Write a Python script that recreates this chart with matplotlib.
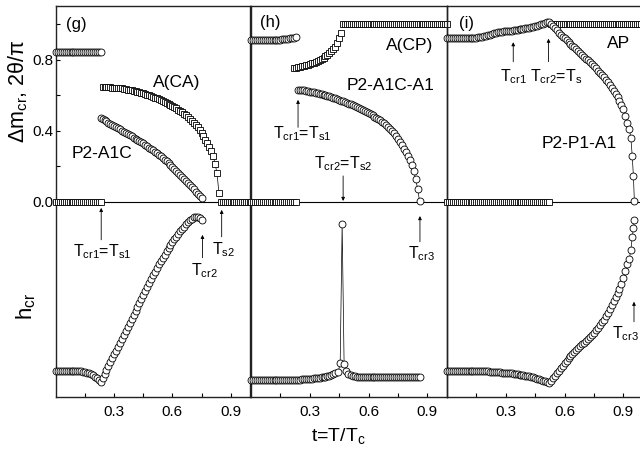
import matplotlib
matplotlib.use('Agg')
import matplotlib.pyplot as plt

plt.rcParams['font.family'] = ['Liberation Sans', 'DejaVu Sans']
plt.rcParams['mathtext.fontset'] = 'custom'
plt.rcParams['mathtext.rm'] = 'Liberation Sans'
plt.rcParams['mathtext.it'] = 'Liberation Sans:italic'

# ---------------- data ----------------
# panel (g)
g_t_flat = [0.00, 0.01, 0.02, 0.03, 0.04, 0.05, 0.06, 0.07, 0.08, 0.09, 0.10, 0.11,
            0.12, 0.13, 0.14, 0.15, 0.16, 0.17, 0.18, 0.19, 0.20, 0.21, 0.22, 0.23]
g_top = [0.845, 0.845, 0.845, 0.845, 0.845, 0.845, 0.845, 0.845, 0.845, 0.845, 0.845, 0.845,
         0.845, 0.845, 0.845, 0.845, 0.845, 0.845, 0.845, 0.845, 0.845, 0.845, 0.845, 0.845]
g_zero_a = [0.0, 0.0, 0.0, 0.0, 0.0, 0.0, 0.0, 0.0, 0.0, 0.0, 0.0, 0.0,
            0.0, 0.0, 0.0, 0.0, 0.0, 0.0, 0.0, 0.0, 0.0, 0.0, 0.0, 0.0]
g_t_tail = [0.85, 0.86, 0.87, 0.88, 0.89, 0.90, 0.91, 0.92, 0.93, 0.94, 0.95, 0.96,
            0.97, 0.98, 0.99, 1.00]
g_zero_b = [0.0, 0.0, 0.0, 0.0, 0.0, 0.0, 0.0, 0.0, 0.0, 0.0, 0.0, 0.0, 0.0, 0.0, 0.0, 0.0]
g_t_ca = [0.24, 0.25, 0.26, 0.27, 0.28, 0.29, 0.30, 0.31, 0.32, 0.33,
          0.34, 0.35, 0.36, 0.37, 0.38, 0.39, 0.40, 0.41, 0.42, 0.43,
          0.44, 0.45, 0.46, 0.47, 0.48, 0.49, 0.50, 0.51, 0.52, 0.53,
          0.54, 0.55, 0.56, 0.57, 0.58, 0.59, 0.60, 0.61, 0.62, 0.63,
          0.64, 0.65, 0.66, 0.67, 0.68, 0.69, 0.70, 0.71, 0.72, 0.73,
          0.74, 0.75, 0.76, 0.77, 0.78, 0.79, 0.80, 0.81, 0.82, 0.83, 0.84]
g_ca = [0.649, 0.648, 0.647, 0.646, 0.645, 0.644, 0.643, 0.642, 0.641, 0.640,
        0.639, 0.637, 0.635, 0.633, 0.631, 0.629, 0.627, 0.625, 0.622, 0.619,
        0.616, 0.613, 0.609, 0.605, 0.601, 0.597, 0.593, 0.588, 0.584, 0.579,
        0.574, 0.568, 0.563, 0.557, 0.551, 0.545, 0.539, 0.533, 0.527, 0.520,
        0.513, 0.505, 0.496, 0.487, 0.477, 0.466, 0.455, 0.444, 0.433, 0.421,
        0.405, 0.388, 0.369, 0.350, 0.332, 0.312, 0.287, 0.256, 0.216, 0.160, 0.050]
g_t_p2 = [0.23, 0.24, 0.25, 0.26, 0.27, 0.28, 0.29, 0.30, 0.31, 0.32,
          0.33, 0.34, 0.35, 0.36, 0.37, 0.38, 0.39, 0.40, 0.41, 0.42,
          0.43, 0.44, 0.45, 0.46, 0.47, 0.48, 0.49, 0.50, 0.51, 0.52,
          0.53, 0.54, 0.55, 0.56, 0.57, 0.58, 0.59, 0.60, 0.61, 0.62,
          0.63, 0.64, 0.65, 0.66, 0.67, 0.68, 0.69, 0.70, 0.71, 0.72,
          0.73, 0.74, 0.75]
g_p2 = [0.472, 0.466, 0.460, 0.453, 0.447, 0.440, 0.434, 0.427, 0.421, 0.414,
        0.408, 0.401, 0.395, 0.388, 0.382, 0.375, 0.369, 0.362, 0.356, 0.349,
        0.343, 0.336, 0.329, 0.322, 0.314, 0.306, 0.298, 0.290, 0.282, 0.274,
        0.266, 0.257, 0.248, 0.238, 0.228, 0.218, 0.208, 0.197, 0.186, 0.175,
        0.164, 0.152, 0.141, 0.130, 0.119, 0.108, 0.097, 0.085, 0.072, 0.058,
        0.046, 0.032, 0.020]
g_t_h = g_t_flat + [0.24, 0.25, 0.26, 0.27, 0.28, 0.29,
        0.30, 0.31, 0.32, 0.33, 0.34, 0.35, 0.36, 0.37, 0.38, 0.39,
        0.40, 0.41, 0.42, 0.43, 0.44, 0.45, 0.46, 0.47, 0.48, 0.49,
        0.50, 0.51, 0.52, 0.53, 0.54, 0.55, 0.56, 0.57, 0.58, 0.59,
        0.60, 0.61, 0.62, 0.63, 0.64, 0.65, 0.66, 0.67, 0.68, 0.69,
        0.70, 0.71, 0.72, 0.73, 0.74, 0.75]
g_h = [-0.952, -0.952, -0.952, -0.952, -0.952, -0.952, -0.952, -0.952, -0.952, -0.952,
       -0.952, -0.952, -0.953, -0.955, -0.957, -0.960, -0.963, -0.967, -0.972, -0.978,
       -0.985, -0.993, -1.003, -1.013, -0.992, -0.970, -0.948, -0.926, -0.904, -0.882,
       -0.860, -0.838, -0.816, -0.794, -0.772, -0.750, -0.728, -0.706, -0.684, -0.662,
       -0.640, -0.617, -0.594, -0.571, -0.548, -0.525, -0.502, -0.480, -0.458, -0.436,
       -0.414, -0.393, -0.373, -0.353, -0.334, -0.315, -0.297, -0.279, -0.262, -0.245,
       -0.228, -0.212, -0.196, -0.181, -0.166, -0.152, -0.139, -0.127, -0.115, -0.104,
       -0.095, -0.088, -0.084, -0.085, -0.092, -0.102]

# panel (h)
h_t_flat = g_t_flat
h_top = [0.915, 0.915, 0.915, 0.915, 0.915, 0.915, 0.915, 0.915, 0.915, 0.915, 0.915, 0.915,
         0.915, 0.915, 0.915, 0.915, 0.916, 0.917, 0.918, 0.919, 0.921, 0.923, 0.926, 0.930]
h_zero = g_zero_a
h_t_cp = [0.22, 0.23, 0.24, 0.25, 0.26, 0.27, 0.28, 0.29, 0.30, 0.31, 0.32, 0.33,
          0.34, 0.35, 0.36, 0.37, 0.38, 0.39, 0.40, 0.41, 0.42, 0.43, 0.44, 0.45, 0.46]
h_cp = [0.755, 0.757, 0.759, 0.761, 0.764, 0.767, 0.770, 0.773, 0.777, 0.781, 0.785, 0.790,
        0.795, 0.801, 0.807, 0.813, 0.820, 0.828, 0.837, 0.848, 0.860, 0.875, 0.897, 0.922, 0.950]
h_t_one = [0.47, 0.48, 0.49, 0.50, 0.51, 0.52, 0.53, 0.54, 0.55, 0.56, 0.57, 0.58,
           0.59, 0.60, 0.61, 0.62, 0.63, 0.64, 0.65, 0.66, 0.67, 0.68, 0.69, 0.70,
           0.71, 0.72, 0.73, 0.74, 0.75, 0.76, 0.77, 0.78, 0.79, 0.80, 0.81, 0.82,
           0.83, 0.84, 0.85, 0.86, 0.87, 0.88, 0.89, 0.90, 0.91, 0.92, 0.93, 0.94,
           0.95, 0.96, 0.97, 0.98, 0.99, 1.00]
h_one = [1.0, 1.0, 1.0, 1.0, 1.0, 1.0, 1.0, 1.0, 1.0, 1.0, 1.0, 1.0,
         1.0, 1.0, 1.0, 1.0, 1.0, 1.0, 1.0, 1.0, 1.0, 1.0, 1.0, 1.0,
         1.0, 1.0, 1.0, 1.0, 1.0, 1.0, 1.0, 1.0, 1.0, 1.0, 1.0, 1.0,
         1.0, 1.0, 1.0, 1.0, 1.0, 1.0, 1.0, 1.0, 1.0, 1.0, 1.0, 1.0,
         1.0, 1.0, 1.0, 1.0, 1.0, 1.0]
h_t_p2 = [0.24, 0.25, 0.26, 0.27, 0.28, 0.29, 0.30, 0.31, 0.32, 0.33,
          0.34, 0.35, 0.36, 0.37, 0.38, 0.39, 0.40, 0.41, 0.42, 0.43,
          0.44, 0.45, 0.46, 0.47, 0.48, 0.49, 0.50, 0.51, 0.52, 0.53,
          0.54, 0.55, 0.56, 0.57, 0.58, 0.59, 0.60, 0.61, 0.62, 0.63,
          0.64, 0.65, 0.66, 0.67, 0.68, 0.69, 0.70, 0.71, 0.72, 0.73,
          0.74, 0.75, 0.76, 0.77, 0.78, 0.79, 0.80, 0.81, 0.82, 0.83,
          0.84, 0.85, 0.86]
h_p2 = [0.631, 0.630, 0.629, 0.628, 0.626, 0.624, 0.622, 0.620, 0.617, 0.615,
        0.612, 0.609, 0.606, 0.603, 0.600, 0.597, 0.594, 0.590, 0.587, 0.583,
        0.579, 0.575, 0.571, 0.567, 0.563, 0.558, 0.553, 0.549, 0.544, 0.539,
        0.535, 0.530, 0.525, 0.519, 0.513, 0.507, 0.501, 0.495, 0.488, 0.481,
        0.474, 0.467, 0.460, 0.452, 0.443, 0.433, 0.423, 0.412, 0.400, 0.387,
        0.373, 0.357, 0.340, 0.321, 0.300, 0.280, 0.260, 0.234, 0.205, 0.172,
        0.130, 0.072, 0.005]
h_t_h = [0.00, 0.01, 0.02, 0.03, 0.04, 0.05, 0.06, 0.07, 0.08, 0.09,
         0.10, 0.11, 0.12, 0.13, 0.14, 0.15, 0.16, 0.17, 0.18, 0.19,
         0.20, 0.21, 0.22, 0.23, 0.24, 0.25, 0.26, 0.27, 0.28, 0.29,
         0.30, 0.31, 0.32, 0.33, 0.34, 0.35, 0.36, 0.37, 0.38, 0.39,
         0.40, 0.41, 0.42, 0.43,
         0.445, 0.455, 0.465, 0.475, 0.485, 0.495,
         0.51, 0.52, 0.53, 0.54, 0.55, 0.56, 0.57, 0.58, 0.59, 0.60,
         0.61, 0.62, 0.63, 0.64, 0.65, 0.66, 0.67, 0.68, 0.69, 0.70,
         0.71, 0.72, 0.73, 0.74, 0.75, 0.76, 0.77, 0.78, 0.79, 0.80,
         0.81, 0.82, 0.83, 0.84, 0.85, 0.86]
h_h = [-1.005, -1.005, -1.005, -1.005, -1.005, -1.005, -1.005, -1.005, -1.005, -1.005,
       -1.005, -1.005, -1.005, -1.005, -1.005, -1.005, -1.005, -1.005, -1.005, -1.005,
       -1.004, -1.004, -1.003, -1.003, -1.002, -1.002, -1.001, -1.000, -0.999, -0.998,
       -0.997, -0.996, -0.995, -0.994, -0.993, -0.991, -0.989, -0.987, -0.985, -0.983,
       -0.980, -0.977, -0.973, -0.967,
       -0.957, -0.910, -0.124, -0.912, -0.955, -0.970,
       -0.977, -0.981, -0.983, -0.985, -0.986, -0.987, -0.988, -0.988, -0.989, -0.989,
       -0.989, -0.989, -0.989, -0.989, -0.989, -0.989, -0.989, -0.989, -0.989, -0.989,
       -0.990, -0.990, -0.990, -0.990, -0.990, -0.990, -0.990, -0.990, -0.990, -0.990,
       -0.990, -0.990, -0.990, -0.990, -0.990, -0.990]

# panel (i)
i_t_a = [0.00, 0.01, 0.02, 0.03, 0.04, 0.05, 0.06, 0.07, 0.08, 0.09,
         0.10, 0.11, 0.12, 0.13, 0.14, 0.15, 0.16, 0.17, 0.18, 0.19,
         0.20, 0.21, 0.22, 0.23, 0.24, 0.25, 0.26, 0.27, 0.28, 0.29,
         0.30, 0.31, 0.32, 0.33, 0.34, 0.35, 0.36, 0.37, 0.38, 0.39,
         0.40, 0.41, 0.42, 0.43, 0.44, 0.45, 0.46, 0.47, 0.48, 0.49,
         0.50, 0.51, 0.52]
i_top_a = [0.922, 0.922, 0.922, 0.922, 0.922, 0.922, 0.922, 0.922, 0.922, 0.922,
           0.922, 0.922, 0.922, 0.923, 0.924, 0.925, 0.927, 0.929, 0.931, 0.934,
           0.937, 0.940, 0.943, 0.946, 0.949, 0.952, 0.955, 0.957, 0.959, 0.961,
           0.962, 0.963, 0.964, 0.965, 0.966, 0.968, 0.970, 0.972, 0.974, 0.976,
           0.978, 0.980, 0.982, 0.985, 0.988, 0.991, 0.994, 0.997, 1.000, 1.003,
           1.007, 1.011, 1.015]
i_zero = [0.0, 0.0, 0.0, 0.0, 0.0, 0.0, 0.0, 0.0, 0.0, 0.0,
          0.0, 0.0, 0.0, 0.0, 0.0, 0.0, 0.0, 0.0, 0.0, 0.0,
          0.0, 0.0, 0.0, 0.0, 0.0, 0.0, 0.0, 0.0, 0.0, 0.0,
          0.0, 0.0, 0.0, 0.0, 0.0, 0.0, 0.0, 0.0, 0.0, 0.0,
          0.0, 0.0, 0.0, 0.0, 0.0, 0.0, 0.0, 0.0, 0.0, 0.0,
          0.0, 0.0, 0.0]
i_t_b = [0.53, 0.54, 0.55, 0.56, 0.57, 0.58, 0.59, 0.60, 0.61, 0.62,
         0.63, 0.64, 0.65, 0.66, 0.67, 0.68, 0.69, 0.70, 0.71, 0.72,
         0.73, 0.74, 0.75, 0.76, 0.77, 0.78, 0.79, 0.80, 0.81, 0.82,
         0.83, 0.84, 0.85, 0.86, 0.87, 0.88, 0.89, 0.90,
         0.91, 0.92, 0.93, 0.938, 0.945, 0.951, 0.956]
i_top_b = [1.002, 0.990, 0.978, 0.966, 0.953, 0.941, 0.931, 0.921, 0.911, 0.901,
           0.891, 0.881, 0.871, 0.861, 0.851, 0.840, 0.830, 0.819, 0.808, 0.797,
           0.786, 0.775, 0.764, 0.752, 0.740, 0.728, 0.716, 0.703, 0.689, 0.675,
           0.659, 0.642, 0.625, 0.606, 0.590, 0.570, 0.548, 0.524,
           0.485, 0.445, 0.410, 0.360, 0.260, 0.145, 0.005]
i_h = [-0.952, -0.952, -0.952, -0.952, -0.952, -0.952, -0.952, -0.952, -0.952, -0.952,
       -0.952, -0.952, -0.953, -0.953, -0.954, -0.954, -0.955, -0.955, -0.955, -0.956,
       -0.956, -0.956, -0.957, -0.958, -0.958, -0.959, -0.960, -0.961, -0.962, -0.963,
       -0.964, -0.965, -0.966, -0.967, -0.969, -0.970, -0.972, -0.974, -0.976, -0.978,
       -0.980, -0.982, -0.984, -0.987, -0.990, -0.993, -0.996, -0.999, -1.003, -1.007,
       -1.011, -1.015, -1.020,
       -1.010, -0.995, -0.980, -0.966, -0.951, -0.937, -0.923, -0.909, -0.895, -0.882,
       -0.870, -0.859, -0.848, -0.837, -0.826, -0.815, -0.804, -0.793, -0.782, -0.771,
       -0.760, -0.749, -0.738, -0.724, -0.710, -0.695, -0.680, -0.665, -0.645, -0.624,
       -0.603, -0.581, -0.559, -0.537, -0.514, -0.490, -0.462, -0.428,
       -0.387, -0.352, -0.322, -0.272, -0.200, -0.150, -0.105]
i_t_one = [0.53, 0.54, 0.55, 0.56, 0.57, 0.58, 0.59, 0.60, 0.61, 0.62,
           0.63, 0.64, 0.65, 0.66, 0.67, 0.68, 0.69, 0.70, 0.71, 0.72,
           0.73, 0.74, 0.75, 0.76, 0.77, 0.78, 0.79, 0.80, 0.81, 0.82,
           0.83, 0.84, 0.85, 0.86, 0.87, 0.88, 0.89, 0.90, 0.91, 0.92,
           0.93, 0.94, 0.95, 0.96, 0.97, 0.98, 0.99, 1.00]
i_one = h_one[:48]

x_ticks = [0.3, 0.6, 0.9]
x_minor = [0.15, 0.45, 0.75]
y_ticks = [0.0, 0.4, 0.8]
y_minor = [0.2, 0.6, 1.0]

# ---------------- figure ----------------
fig = plt.figure(figsize=(6.4, 4.53), dpi=100)
W, H = 640.0, 453.0
bottom = 1 - 397 / H
height = (397 - 6) / H
ax_g = fig.add_axes([56 / W, bottom, 194 / W, height])
ax_h = fig.add_axes([251 / W, bottom, 196 / W, height])
ax_i = fig.add_axes([447 / W, bottom, 196 / W, height])


def circles(ax, t, y):
    ax.plot(t, y, marker='o', ms=5, mfc='white', mec='black', mew=0.6,
            color='black', lw=0.5, clip_on=False, zorder=4)


def squares(ax, t, y):
    ax.plot(t, y, marker='s', ms=4.5, mfc='white', mec='black', mew=0.6,
            color='black', lw=0.5, clip_on=False, zorder=3)


def arrow(ax, x, y0, y1):
    ax.annotate('', xy=(x, y1), xytext=(x, y0),
                arrowprops=dict(arrowstyle='-|>', color='black', lw=0.6,
                                mutation_scale=5, shrinkA=0, shrinkB=0))


for ax in (ax_g, ax_h, ax_i):
    ax.set_xlim(0, 1.0)
    ax.set_ylim(-1.1, 1.104)
    ax.axhline(0, color='black', lw=0.8, zorder=2)
    ax.set_xticks(x_ticks)
    ax.set_xticklabels(['0.3', '0.6', '0.9'])
    ax.set_xticks(x_minor, minor=True)
    ax.tick_params(axis='x', which='both', direction='in', length=3, width=0.8,
                   labelsize=11, pad=6)
    for s in ax.spines.values():
        s.set_linewidth(1.0)
        s.set_color('#222222')
    ax.set_facecolor('none')

ax_g.set_yticks(y_ticks)
ax_g.set_yticklabels(['0.0', '0.4', '0.8'])
ax_g.set_yticks(y_minor, minor=True)
ax_g.tick_params(axis='y', which='both', direction='in', length=3, width=0.8,
                 labelsize=11, pad=2)
ax_h.set_yticks([])
ax_i.set_yticks([])

# panel (g)
circles(ax_g, g_t_flat, g_top)
squares(ax_g, g_t_flat, g_zero_a)
squares(ax_g, g_t_tail, g_zero_b)
squares(ax_g, g_t_ca, g_ca)
circles(ax_g, g_t_p2, g_p2)
circles(ax_g, g_t_h, g_h)
ax_g.text(0.103, 1.0, '(g)', fontsize=12, ha='center', va='center')
ax_g.text(0.62, 0.67, 'A(CA)', fontsize=12.5, ha='center', va='center')
ax_g.text(0.238, 0.27, 'P2-A1C', fontsize=12.5, ha='center', va='center')
arrow(ax_g, 0.233, -0.214, -0.034)
ax_g.text(0.238, -0.28, r'T$_{\mathrm{cr1}}$=T$_{\mathrm{s1}}$', fontsize=11.5,
          ha='center', va='center')
arrow(ax_g, 0.755, -0.315, -0.186)
ax_g.text(0.765, -0.39, r'T$_{\mathrm{cr2}}$', fontsize=11.5, ha='center', va='center')
arrow(ax_g, 0.854, -0.197, -0.045)
ax_g.text(0.866, -0.27, r'T$_{\mathrm{s2}}$', fontsize=11.5, ha='center', va='center')

# panel (h)
circles(ax_h, h_t_flat, h_top)
squares(ax_h, h_t_flat, h_zero)
squares(ax_h, h_t_cp, h_cp)
squares(ax_h, h_t_one, h_one)
circles(ax_h, h_t_p2, h_p2)
circles(ax_h, h_t_h, h_h)
ax_h.text(0.097, 1.01, '(h)', fontsize=12, ha='center', va='center')
ax_h.text(0.81, 0.88, 'A(CP)', fontsize=12.5, ha='center', va='center')
ax_h.text(0.71, 0.655, 'P2-A1C-A1', fontsize=12.5, ha='center', va='center')
arrow(ax_h, 0.24, 0.42, 0.575)
ax_h.text(0.26, 0.383, r'T$_{\mathrm{cr1}}$=T$_{\mathrm{s1}}$', fontsize=11.5,
          ha='center', va='center')
arrow(ax_h, 0.47, 0.146, 0.005)
ax_h.text(0.47, 0.214, r'T$_{\mathrm{cr2}}$=T$_{\mathrm{s2}}$', fontsize=11.5,
          ha='center', va='center')
arrow(ax_h, 0.862, -0.225, -0.08)
ax_h.text(0.87, -0.293, r'T$_{\mathrm{cr3}}$', fontsize=11.5, ha='center', va='center')

# panel (i)
circles(ax_i, i_t_a, i_top_a)
circles(ax_i, i_t_b, i_top_b)
squares(ax_i, i_t_a, i_zero)
squares(ax_i, i_t_one, i_one)
circles(ax_i, i_t_a + i_t_b, i_h)
ax_i.text(0.10, 1.003, '(i)', fontsize=12, ha='center', va='center')
ax_i.text(0.877, 0.89, 'AP', fontsize=12.5, ha='center', va='center')
ax_i.text(0.677, 0.327, 'P2-P1-A1', fontsize=12.5, ha='center', va='center')
arrow(ax_i, 0.338, 0.79, 0.90)
ax_i.text(0.338, 0.704, r'T$_{\mathrm{cr1}}$', fontsize=11.5, ha='center', va='center')
arrow(ax_i, 0.518, 0.79, 0.92)
ax_i.text(0.555, 0.704, r'T$_{\mathrm{cr2}}$=T$_{\mathrm{s}}$', fontsize=11.5,
          ha='center', va='center')
arrow(ax_i, 0.954, -0.676, -0.563)
ax_i.text(0.982, -0.744, r'T$_{\mathrm{cr3}}$', fontsize=11.5, ha='right', va='center')

# axis labels
fig.text(18 / W, 1 - 91 / H, 'Δm$_{\\mathrm{cr}}$, 2θ/π', rotation=90,
         ha='center', va='center', fontsize=15.5)
fig.text(26 / W, 1 - 306 / H, r'h$_{\mathrm{cr}}$', rotation=90,
         ha='center', va='center', fontsize=16)
fig.text(338 / W, 1 - 436 / H, r't=T/T$_{\mathrm{c}}$', ha='center', va='center', fontsize=14)

fig.savefig('out.png', dpi=100)
